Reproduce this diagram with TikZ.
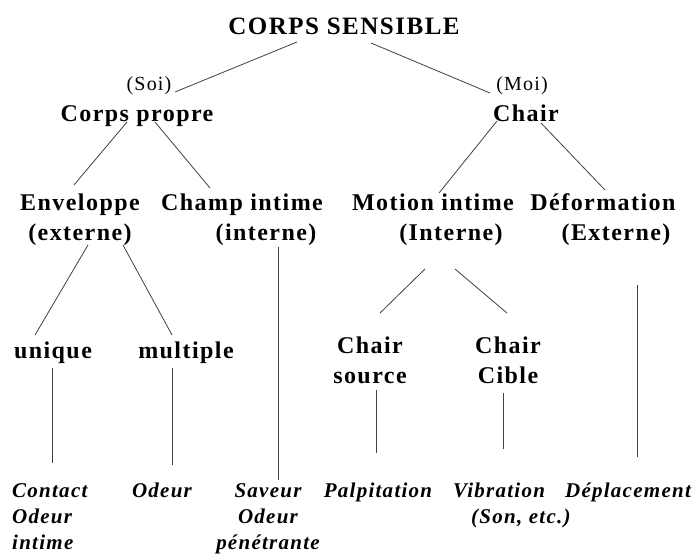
\documentclass[tikz,border=0pt]{standalone}
\usepackage{fontspec}
\setmainfont{Liberation Serif}
\newfontfamily\lblfont[LetterSpace=6]{Liberation Serif}
\usetikzlibrary{calc}
\tikzset{
    lbl/.style={inner sep=0pt, anchor=base, align=center, font=\lblfont\bfseries\fontsize{24}{30}\selectfont},
    side/.style={inner sep=0pt, anchor=base, font=\lblfont\fontsize{20}{24}\selectfont},
    leaf/.style={inner sep=0pt, anchor=base, align=center, font=\lblfont\bfseries\itshape\fontsize{21}{26}\selectfont},
    link/.style={draw=black!75, line width=0.8pt}
}
\begin{document}
\begin{tikzpicture}[x=1pt, y=-1pt]
        \useasboundingbox (0,0) rectangle (696,554);
        % niveau 0 et 1 (base = derniere ligne)
        \node[lbl, font=\lblfont\bfseries\fontsize{25}{30}\selectfont] (corps) at (344,34) {CORPS SENSIBLE};
        \node[side] (soi) at (149,90) {(Soi)};
        \node[side] (moi) at (522,90) {(Moi)};
        \node[lbl] (cpropre) at (137,121) {Corps propre};
        \node[lbl] (chair) at (526,121) {Chair};
        % niveau 2
        \node[lbl] (env) at (80,240) {Enveloppe\\(externe)};
        \node[lbl] (champ) at (242,240) {Champ intime\\\hspace*{48pt}(interne)};
        \node[lbl] (motion) at (433,240) {Motion intime\\\hspace*{36pt}(Interne)};
        \node[lbl] (deform) at (603,240) {D\'eformation\\\hspace*{26pt}(Externe)};
        % niveau 3
        \node[lbl] (unique) at (53,358) {unique};
        \node[lbl] (multiple) at (186,358) {multiple};
        \node[lbl] (csource) at (370,383) {Chair\\source};
        \node[lbl] (ccible) at (508,383) {Chair\\Cible};
        % feuilles
        \node[leaf, anchor=base west, align=left] (contact) at (12,549) {Contact\\Odeur\\intime};
        \node[leaf] (odeur) at (162,497) {Odeur};
        \node[leaf] (saveur) at (268,549) {Saveur\\Odeur\\p\'en\'etrante};
        \node[leaf] (palp) at (378,497) {Palpitation};
        \node[leaf, anchor=base west, align=left] (vibr) at (453,523) {Vibration\\\hspace*{18pt}(Son, etc.)};
        \node[leaf] (depl) at (628,497) {D\'eplacement};

        \begin{scope}[link]
            \draw ($(corps.base)+(-47,8)$) -- ($(soi.base)+(26,2)$);
            \draw ($(corps.base)+(27,9)$) -- ($(moi.base)+(-32,3)$);
            \draw ($(cpropre.base)+(-10,1)$) -- ($(env.base)+(-6,-55)$);
            \draw ($(cpropre.base)+(18,1)$) -- ($(champ.base)+(-32,-52)$);
            \draw ($(chair.base)+(-29,0)$) -- ($(motion.base)+(6,-47)$);
            \draw ($(chair.base)+(15,2)$) -- ($(deform.base)+(2,-50)$);
            \draw ($(env.base)+(8,5)$) -- ($(unique.base)+(-18,-23)$);
            \draw ($(env.base)+(43,5)$) -- ($(multiple.base)+(-14,-23)$);
            \draw ($(champ.base)+(36,7)$) -- ($(saveur.base)+(10,-69)$);
            \draw ($(motion.base)+(-8,29)$) -- ($(csource.base)+(10,-70)$);
            \draw ($(motion.base)+(22,29)$) -- ($(ccible.base)+(-1,-70)$);
            \draw ($(deform.base)+(34,45)$) -- ($(depl.base)+(9,-40)$);
            \draw ($(unique.base)+(-1,10)$) -- ($(contact.base west)+(40,-86)$);
            \draw ($(multiple.base)+(-14,10)$) -- ($(odeur.base)+(10,-32)$);
            \draw ($(csource.base)+(6,7)$) -- ($(palp.base)+(-2,-44)$);
            \draw ($(ccible.base)+(-5,10)$) -- ($(vibr.base west)+(50,-74)$);
        \end{scope}
    \end{tikzpicture}
\end{document}
